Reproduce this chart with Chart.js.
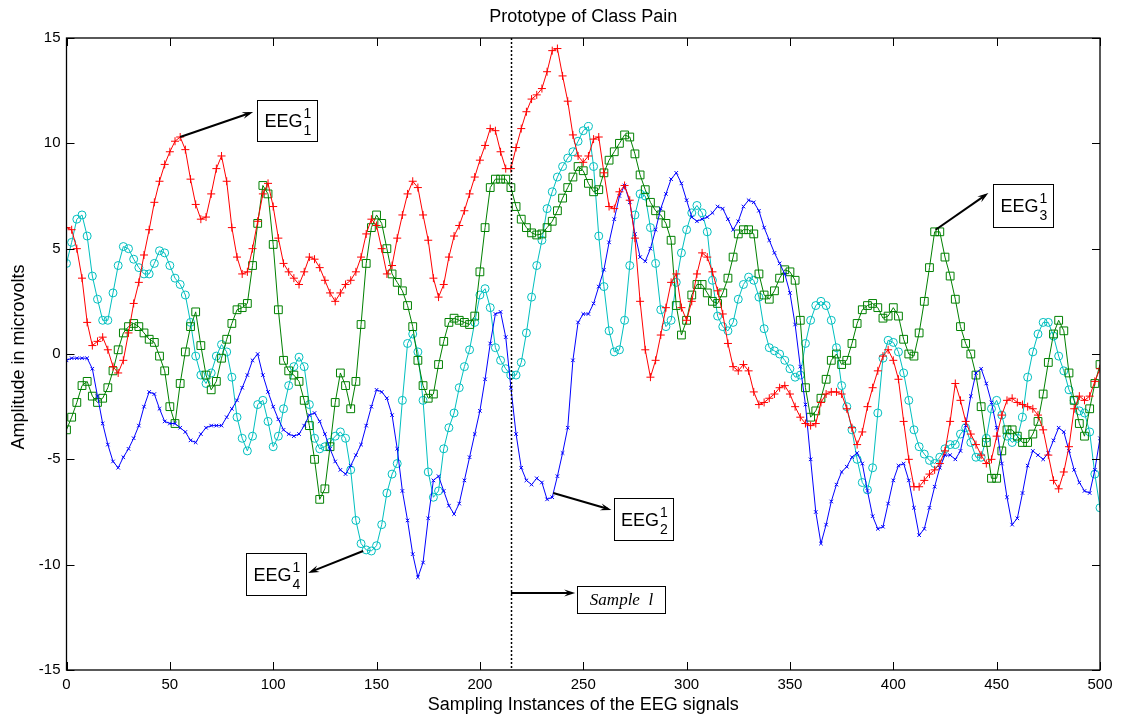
<!DOCTYPE html>
<html lang="en">
<head>
<meta charset="UTF-8" />
<title>Prototype of Class Pain</title>
<style>
  body { margin: 0; background: #fff; }
  #wrap { width: 1122px; height: 717px; position: relative; }
</style>
</head>
<body>
<div id="wrap"><canvas id="eeg"></canvas></div>

<script src="https://cdn.jsdelivr.net/npm/chart.js@4.4.1/dist/chart.umd.min.js"></script>
<script>
// one value every 2.5 sampling instances, from 0 to 500
const step = 2.5;

const eeg1 = [6.0,5.9,5.0,3.6,1.5,0.4,0.6,0.8,0.2,-0.6,-0.9,-0.3,1.0,2.4,3.4,4.7,5.9,7.2,8.2,9.0,
  9.6,10.1,10.3,9.7,8.3,7.1,6.4,6.5,7.6,8.8,9.4,8.2,6.0,4.6,3.8,3.9,5.0,6.3,7.6,8.1,
  7.0,5.5,4.3,3.9,3.6,3.3,3.9,4.6,4.5,4.1,3.5,2.9,2.5,2.9,3.3,3.5,3.9,4.6,5.7,6.4,
  6.1,5.0,3.8,4.2,5.5,6.6,7.6,8.2,7.9,6.6,5.4,3.6,2.7,3.3,4.6,5.6,6.1,6.8,7.6,8.4,
  9.2,9.9,10.7,10.6,9.6,8.8,8.8,9.8,10.7,11.5,12.1,12.3,12.6,13.4,14.4,14.5,13.2,12.0,10.4,9.4,
  9.1,9.4,10.2,10.3,8.6,7.0,6.9,7.7,8.0,7.3,5.5,2.5,0.2,-1.1,-0.3,0.9,2.2,3.4,3.8,2.2,
  1.6,2.5,3.8,4.8,4.6,3.9,3.0,1.9,0.5,-0.6,-0.8,-0.5,-0.8,-1.8,-2.4,-2.3,-2.1,-1.9,-1.6,-1.5,
  -1.9,-2.5,-3.0,-3.3,-3.4,-3.3,-2.3,-1.9,-1.8,-1.8,-1.9,-2.6,-3.5,-4.3,-3.7,-2.5,-1.6,-0.8,-0.1,0.2,
  -0.3,-1.2,-3.2,-5.0,-6.3,-6.3,-6.0,-5.7,-5.5,-5.2,-4.6,-3.2,-1.4,-2.2,-3.2,-3.8,-4.3,-4.8,-5.2,-5.0,
  -3.9,-2.9,-2.2,-2.1,-2.3,-2.4,-2.5,-2.6,-2.9,-3.6,-4.8,-6.0,-6.4,-5.6,-4.4,-2.6,-2.0,-2.2,-2.0,-1.3,
  -0.7];

const eeg2 = [-0.3,-0.2,-0.2,-0.2,-0.2,-0.7,-2.0,-3.3,-4.3,-5.1,-5.4,-4.9,-4.5,-4.0,-3.4,-2.5,-1.8,-1.9,-2.6,-3.2,
  -3.3,-3.3,-3.5,-3.7,-4.1,-4.2,-3.8,-3.5,-3.4,-3.4,-3.4,-3.0,-2.6,-2.2,-1.6,-1.0,-0.3,0.0,-1.0,-1.8,
  -2.5,-3.1,-3.6,-3.8,-3.9,-3.8,-3.4,-2.9,-2.8,-3.2,-3.8,-4.5,-5.1,-5.5,-5.7,-5.3,-4.8,-4.3,-3.4,-2.5,
  -1.7,-1.8,-2.1,-2.9,-4.5,-6.5,-7.9,-9.5,-10.6,-9.9,-7.8,-6.0,-5.8,-6.5,-7.2,-7.6,-7.1,-6.0,-4.9,-3.8,
  -2.7,-1.2,0.5,1.9,2.0,0.8,-1.6,-3.8,-5.4,-6.0,-6.2,-5.9,-6.1,-6.9,-6.8,-5.8,-4.7,-3.5,-0.3,1.5,
  1.9,1.9,2.4,3.2,4.0,5.3,6.4,7.5,8.0,7.2,5.7,4.6,4.4,5.0,5.9,6.9,7.6,8.3,8.6,8.1,
  7.3,6.5,6.3,6.4,6.5,6.7,7.0,6.9,6.4,5.9,6.3,7.0,7.3,7.2,6.8,6.0,5.4,4.8,4.3,3.8,
  2.9,1.4,-0.6,-2.4,-5.0,-7.5,-9.0,-8.1,-7.0,-6.2,-5.6,-5.35,-4.9,-4.7,-5.2,-6.5,-7.7,-8.3,-8.2,-7.1,
  -6.0,-5.3,-5.2,-6.0,-7.3,-8.6,-8.3,-7.3,-6.3,-5.4,-4.8,-4.8,-5.0,-4.6,-3.4,-2.0,-0.9,-0.7,-1.4,-2.3,
  -3.5,-5.2,-6.8,-8.1,-7.8,-6.6,-5.3,-4.6,-4.8,-5.0,-4.7,-4.1,-3.5,-3.7,-4.6,-5.5,-6.1,-6.5,-6.6,-5.5,
  -4.0];

const eeg3 = [-3.6,-3.0,-2.3,-1.5,-1.3,-2.0,-2.3,-2.1,-1.6,-0.8,0.2,1.0,1.3,1.45,1.3,1.0,0.7,0.55,-0.1,-0.8,
  -2.5,-3.3,-1.4,0.1,1.3,2.0,0.4,-1.0,-1.7,-1.3,-0.2,0.7,1.45,2.1,2.2,2.4,4.2,6.2,8.0,7.6,
  5.2,2.1,-0.3,-0.8,-1.0,-1.3,-2.2,-3.4,-5.0,-6.9,-6.4,-4.4,-2.3,-0.9,-1.5,-2.6,-1.3,1.4,4.3,6.0,
  6.6,6.2,5.0,3.8,3.4,3.0,2.3,1.3,-0.3,-1.5,-2.1,-1.9,-0.5,0.6,1.5,1.7,1.6,1.5,1.4,1.8,
  3.9,6.0,7.9,8.3,8.3,8.3,7.9,7.0,6.4,6.0,5.75,5.65,5.7,6.0,6.3,6.8,7.4,7.9,8.4,8.9,
  8.7,8.1,7.7,7.8,8.6,9.2,9.6,10.0,10.4,10.3,9.5,8.5,7.8,7.2,6.8,6.6,6.2,5.4,2.3,0.9,
  1.6,2.8,3.3,3.3,2.9,2.5,2.4,2.9,3.6,4.6,5.7,5.9,5.9,5.7,3.8,2.8,2.6,3.0,3.6,4.0,
  3.9,3.5,1.6,-1.6,-3.0,-2.7,-2.1,-1.2,-0.3,0.0,-0.5,-0.3,0.5,1.45,2.1,2.3,2.4,2.2,1.7,1.8,
  2.2,1.8,0.7,0.0,-0.1,1.0,2.5,4.1,5.8,5.8,4.6,3.7,2.6,1.3,0.5,0.0,-1.0,-2.5,-4.2,-5.9,
  -5.9,-4.6,-3.6,-3.6,-3.9,-4.2,-4.2,-3.8,-3.2,-1.9,-0.4,0.95,1.6,1.1,-0.9,-2.2,-3.3,-3.9,-2.6,-1.4,
  -0.5];

const eeg4 = [4.3,5.3,6.4,6.6,5.6,3.7,2.6,1.6,1.6,2.9,4.2,5.1,5.0,4.5,4.1,3.8,3.8,4.3,4.9,4.8,
  4.2,3.6,3.3,2.8,1.5,-0.1,-1.0,-1.4,-0.9,-0.1,0.45,0.1,-1.1,-3.0,-4.0,-4.6,-3.9,-2.4,-2.2,-3.2,
  -4.4,-3.9,-2.6,-1.5,-0.6,-0.15,-0.6,-2.4,-4.0,-4.5,-4.4,-4.2,-3.9,-3.7,-4.0,-5.5,-7.9,-9.0,-9.3,-9.35,
  -9.1,-8.1,-6.6,-5.7,-5.2,-2.2,0.5,0.95,0.1,-2.2,-5.6,-6.8,-6.5,-4.5,-3.5,-2.8,-1.6,-0.6,0.2,1.5,
  2.8,3.1,2.2,0.3,-0.3,-0.7,-1.0,-1.0,-0.4,1.0,2.7,4.2,5.4,6.9,7.7,8.4,8.9,9.3,9.6,10.1,
  10.6,10.8,8.9,5.6,3.2,1.1,0.1,0.2,1.6,4.2,6.6,7.6,7.5,6.0,4.3,2.1,1.3,1.6,3.4,4.8,
  5.9,6.7,7.05,6.7,5.8,3.5,1.8,1.3,1.1,1.5,2.6,3.3,3.65,3.5,2.7,1.2,0.3,0.15,0.0,-0.3,
  -0.7,-1.1,-1.0,0.5,1.6,2.3,2.5,2.3,1.6,0.3,-1.5,-2.5,-3.6,-5.0,-6.1,-6.45,-5.4,-2.8,-0.2,0.65,
  0.55,0.1,-0.9,-2.2,-3.6,-4.4,-4.75,-5.05,-5.2,-4.9,-4.5,-4.3,-4.3,-3.8,-3.5,-4.2,-4.9,-4.9,-4.0,-2.6,
  -2.2,-2.9,-3.9,-4.2,-4.0,-3.0,-1.1,0.1,0.95,1.5,1.5,0.85,-0.1,-0.8,-1.7,-2.2,-2.7,-2.8,-3.7,-5.7,
  -7.3];

const xTickStep = 50;
const yTickStep = 5;
const titleText = 'Prototype of Class Pain';
const xTitle = 'Sampling Instances of the EEG signals';
const yTitle = 'Amplitude in microvolts';
const markedSample = 215;

const FONT = '"Liberation Sans", Arial, Helvetica, sans-serif';

function toPoints(values) {
  return values.map((v, i) => ({ x: i * step, y: v }));
}

// EEG callouts: super/subscript, box corners and arrow tail -> head, in data units
const callouts = [
  { sup: '1', sub: '1', box: [92.2, 12.06, 121.3, 10.11], from: [55, 10.3], to: [90.3, 11.49] },
  { sup: '1', sub: '3', box: [448.4, 8.07, 477.5, 6.03], from: [420.5, 5.9], to: [446, 7.64] },
  { sup: '1', sub: '2', box: [265, -6.83, 293.6, -8.83], from: [235.5, -6.6], to: [263.6, -7.4] },
  { sup: '1', sub: '4', box: [86.9, -9.44, 115.9, -11.44], from: [143.5, -9.35], to: [116.9, -10.39] }
];

function arrow(ctx, x1, y1, x2, y2) {
  const ang = Math.atan2(y2 - y1, x2 - x1);
  const len = 11, half = 3.5;
  ctx.beginPath();
  ctx.moveTo(x1, y1);
  ctx.lineTo(x2 - Math.cos(ang) * 4, y2 - Math.sin(ang) * 4);
  ctx.stroke();
  ctx.beginPath();
  ctx.moveTo(x2, y2);
  ctx.lineTo(x2 - len * Math.cos(ang) + half * Math.sin(ang), y2 - len * Math.sin(ang) - half * Math.cos(ang));
  ctx.lineTo(x2 - 7 * Math.cos(ang), y2 - 7 * Math.sin(ang));
  ctx.lineTo(x2 - len * Math.cos(ang) - half * Math.sin(ang), y2 - len * Math.sin(ang) + half * Math.cos(ang));
  ctx.closePath();
  ctx.fill();
}

// axes box, inward ticks, titles, the dotted marker and the callouts
const decorations = {
  id: 'decorations',
  afterDatasetsDraw(chart) {
    const { ctx, chartArea: a, scales: { x, y } } = chart;
    ctx.save();

    // dotted marker line
    const mx = Math.round(x.getPixelForValue(markedSample)) + 0.5;
    ctx.strokeStyle = '#000';
    ctx.lineWidth = 1.5;
    ctx.setLineDash([2, 2]);
    ctx.beginPath();
    ctx.moveTo(mx, a.top);
    ctx.lineTo(mx, a.bottom);
    ctx.stroke();
    ctx.setLineDash([]);

    // frame
    ctx.lineWidth = 1.3;
    ctx.strokeRect(a.left, a.top, a.right - a.left, a.bottom - a.top);

    // inward ticks on all four sides
    ctx.lineWidth = 1;
    ctx.beginPath();
    for (let v = 0; v <= 500; v += xTickStep) {
      const px = Math.round(x.getPixelForValue(v)) + 0.5;
      ctx.moveTo(px, a.bottom); ctx.lineTo(px, a.bottom - 8);
      ctx.moveTo(px, a.top); ctx.lineTo(px, a.top + 8);
    }
    for (let v = -15; v <= 15; v += yTickStep) {
      const py = Math.round(y.getPixelForValue(v)) + 0.5;
      ctx.moveTo(a.left, py); ctx.lineTo(a.left + 8, py);
      ctx.moveTo(a.right, py); ctx.lineTo(a.right - 8, py);
    }
    ctx.stroke();

    // titles
    ctx.fillStyle = '#000';
    ctx.textAlign = 'center';
    ctx.textBaseline = 'middle';
    ctx.font = '18px ' + FONT;
    ctx.fillText(titleText, (a.left + a.right) / 2, 17);
    ctx.fillText(xTitle, (a.left + a.right) / 2, 705);
    ctx.save();
    ctx.translate(19, (a.top + a.bottom) / 2 + 3);
    ctx.rotate(-Math.PI / 2);
    ctx.fillText(yTitle, 0, 0);
    ctx.restore();

    // callouts
    ctx.lineWidth = 2;
    callouts.forEach(c => {
      arrow(ctx, x.getPixelForValue(c.from[0]), y.getPixelForValue(c.from[1]),
        x.getPixelForValue(c.to[0]), y.getPixelForValue(c.to[1]));
    });
    callouts.forEach(c => {
      const l = Math.round(x.getPixelForValue(c.box[0])) + 0.5;
      const t = Math.round(y.getPixelForValue(c.box[1])) + 0.5;
      const r = Math.round(x.getPixelForValue(c.box[2])) + 0.5;
      const b = Math.round(y.getPixelForValue(c.box[3])) + 0.5;
      ctx.fillStyle = '#fff';
      ctx.fillRect(l, t, r - l, b - t);
      ctx.strokeStyle = '#000';
      ctx.lineWidth = 1;
      ctx.strokeRect(l, t, r - l, b - t);
      ctx.fillStyle = '#000';
      ctx.textAlign = 'left';
      ctx.textBaseline = 'alphabetic';
      ctx.font = '18px ' + FONT;
      const w = ctx.measureText('EEG').width;
      const tx = (l + r) / 2 - (w + 8) / 2;
      const base = (t + b) / 2 + 6;
      ctx.fillText('EEG', tx, base);
      ctx.font = '14px ' + FONT;
      ctx.fillText(c.sup, tx + w + 1, base - 9);
      ctx.fillText(c.sub, tx + w + 1, base + 8);
    });

    // sample marker label
    const sx = x.getPixelForValue(markedSample), ay = y.getPixelForValue(-11.34);
    ctx.strokeStyle = '#000';
    ctx.fillStyle = '#000';
    ctx.lineWidth = 2;
    arrow(ctx, sx, ay, x.getPixelForValue(246.1), ay);
    const bl = Math.round(x.getPixelForValue(247.1)) + 0.5;
    const br = Math.round(x.getPixelForValue(289.7)) + 0.5;
    const bt = Math.round(y.getPixelForValue(-11.0)) + 0.5;
    const bb = Math.round(y.getPixelForValue(-12.3)) + 0.5;
    ctx.fillStyle = '#fff';
    ctx.fillRect(bl, bt, br - bl, bb - bt);
    ctx.lineWidth = 1;
    ctx.strokeRect(bl, bt, br - bl, bb - bt);
    ctx.fillStyle = '#000';
    ctx.textAlign = 'center';
    ctx.textBaseline = 'middle';
    ctx.font = 'italic 17px "Liberation Serif", "Times New Roman", serif';
    ctx.fillText('Sample  l', (bl + br) / 2, (bt + bb) / 2 + 1);

    ctx.restore();
  }
};

const series = (label, values, color, style, radius) => ({
  label,
  data: toPoints(values),
  borderColor: color,
  backgroundColor: 'rgba(0,0,0,0)',
  borderWidth: 1,
  pointStyle: style,
  pointRadius: radius,
  pointBorderColor: color,
  pointBackgroundColor: 'rgba(0,0,0,0)',
  pointBorderWidth: 1,
  tension: 0,
  fill: false
});

new Chart(document.getElementById('eeg'), {
  type: 'line',
  data: {
    datasets: [
      series('EEG1', eeg1, '#ff0000', 'cross', 4),
      series('EEG2', eeg2, '#0000ff', 'crossRot', 2.5),
      series('EEG3', eeg3, '#008000', 'rect', 5.5),
      series('EEG4', eeg4, '#00bfbf', 'circle', 4)
    ]
  },
  options: {
    responsive: true,
    maintainAspectRatio: false,
    animation: false,
    devicePixelRatio: 1,
    layout: { padding: { top: 38, right: 22, left: 0, bottom: 0 } },
    plugins: { legend: { display: false }, tooltip: { enabled: false }, title: { display: false } },
    scales: {
      x: {
        type: 'linear', min: 0, max: 500,
        grid: { display: false, drawTicks: false },
        border: { display: false },
        ticks: { stepSize: xTickStep, color: '#000', padding: 6, maxRotation: 0, font: { family: FONT, size: 15 } },
        afterFit(s) { s.height = 47; }
      },
      y: {
        min: -15, max: 15,
        grid: { display: false, drawTicks: false },
        border: { display: false },
        ticks: { stepSize: yTickStep, color: '#000', padding: 6, font: { family: FONT, size: 15 } },
        afterFit(s) { s.width = 66.5; }
      }
    }
  },
  plugins: [decorations]
});
</script>
</body>
</html>
